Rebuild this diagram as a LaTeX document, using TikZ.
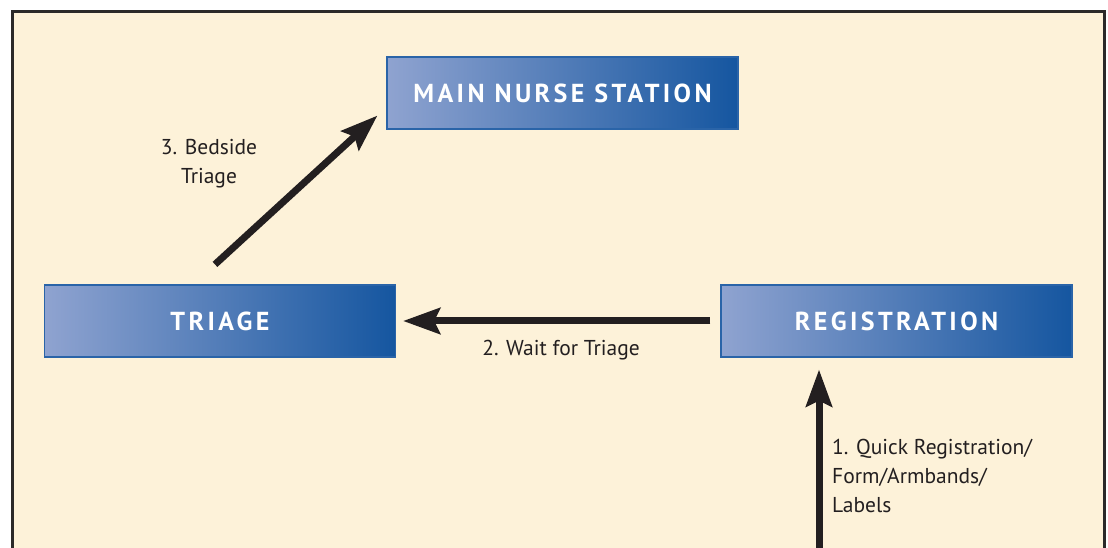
\documentclass[tikz,border=0pt]{standalone}
\usepackage{fontspec}
\setmainfont{PT Sans}
\newfontfamily\boxfont[LetterSpace=13.0]{PT Sans}
\usetikzlibrary{arrows.meta}

\definecolor{paper}{HTML}{FDF2D9}
\definecolor{frameline}{HTML}{2B2A29}
\definecolor{boxlight}{HTML}{8FA3D0}
\definecolor{boxdark}{HTML}{1556A0}
\definecolor{boxedge}{HTML}{2A64A8}
\definecolor{ink}{HTML}{231F20}

\begin{document}
\begin{tikzpicture}[x=1pt,y=1pt,
        station/.style={rectangle,draw=boxedge,line width=1.2pt,
            left color=boxlight,right color=boxdark,
            minimum width=351pt,minimum height=72pt,inner sep=0pt,
            text=white,font=\boxfont\bfseries\fontsize{26}{30}\selectfont},
        note/.style={inner sep=0pt,text=ink,font=\fontsize{21.5}{29}\selectfont},
        flow/.style={draw=ink,line width=7pt,-{Stealth[length=37pt,width=26pt,inset=6pt]}}
    ]
        \useasboundingbox (0,0) rectangle (1108,548);
        \fill[paper] (12,0) rectangle (1104,536.5);
        \draw[frameline,line width=3pt] (12,0) -- (12,536.5) -- (1104,536.5) -- (1104,0);

        \node[station] (main) at (562.5,455) {MAIN NURSE STATION};
        \node[station] (triage) at (220,227) {TRIAGE};
        \node[station] (registration) at (896.5,227) {REGISTRATION};
        \coordinate (walkin) at (819,0);

        \draw[flow,shorten >=12pt] (walkin) -- (walkin |- registration.south);
        \draw[flow,shorten <=10pt,shorten >=7pt] (registration.west) -- (triage.east);
        \draw[flow] ([xshift=-5pt,yshift=20pt]triage.north) -- ([xshift=-9pt,yshift=14pt]main.south west);

        \node[note,anchor=west,align=left] (quickText) at (832,72.5) {1. Quick Registration/\\Form/Armbands/\\Labels};
        \node[note] (waitText) at (561,198) {2. Wait for Triage};
        \node[note,align=center] (bedsideText) at (209,384.5) {3. Bedside\\Triage};
    \end{tikzpicture}
\end{document}
